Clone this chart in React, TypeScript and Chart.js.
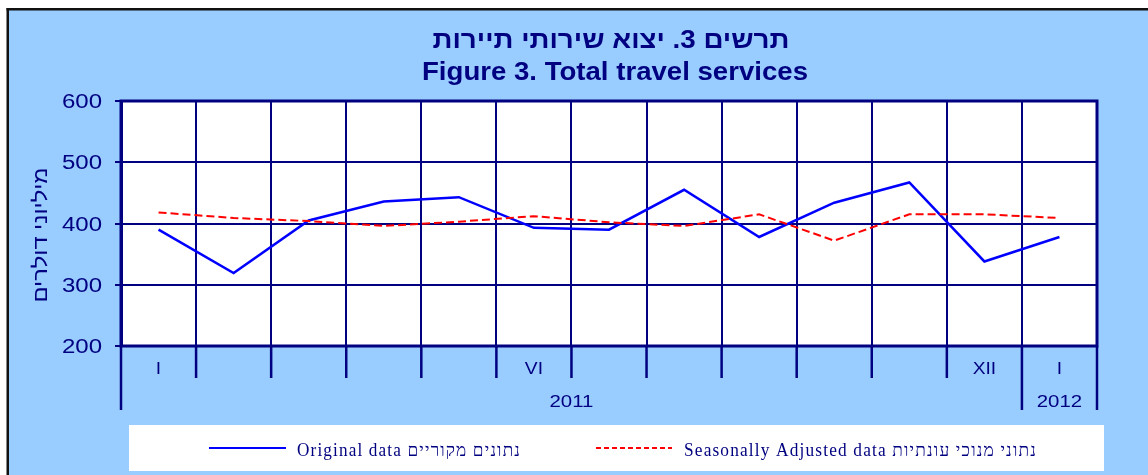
import { useEffect, useRef } from 'react';
import { Chart, registerables } from 'chart.js';

Chart.register(...registerables);

// ---- data ----
const months = ['I', 'II', 'III', 'IV', 'V', 'VI', 'VII', 'VIII', 'IX', 'X', 'XI', 'XII', 'I'];
const monthTickLabels = ['I', '', '', '', '', 'VI', '', '', '', '', '', 'XII', 'I'];
const yearLabels = ['2011', '2012'];
const yearFirstIndex = [0, 12];
const yearLastIndex = [11, 12];
const originalData = [390, 319, 405, 436, 443, 393, 390, 455, 378, 434, 467, 338, 378];
const adjustedData = [418, 409, 404, 396, 403, 412, 402, 396, 415, 372, 415, 415, 409];
const yMin = 200;
const yMax = 600;
const yStep = 100;
const titleHe = 'תרשים 3. יצוא שירותי תיירות';
const titleEn = 'Figure 3. Total travel services';
const yAxisTitle = 'מיליוני דולרים';
const legendOriginal = 'Original data נתונים מקוריים';
const legendAdjusted = 'Seasonally Adjusted data נתוני מנוכי עונתיות';

// ---- styles ----
const NAVY = '#000080';
const BG = '#99CCFF';
const SANS = "'Liberation Sans', Arial, sans-serif";
const SERIF = "'Liberation Serif', 'Times New Roman', serif";

function drawText(
  ctx: CanvasRenderingContext2D,
  text: string,
  x: number,
  y: number,
  font: string,
  align: CanvasTextAlign,
  sx: number,
  baseline: CanvasTextBaseline = 'alphabetic',
  color: string = NAVY
) {
  ctx.save();
  ctx.font = font;
  ctx.fillStyle = color;
  ctx.textAlign = align;
  ctx.textBaseline = baseline;
  ctx.direction = 'ltr';
  ctx.translate(x, y);
  ctx.scale(sx, 1);
  ctx.fillText(text, 0, 0);
  ctx.restore();
}

function drawFit(
  ctx: CanvasRenderingContext2D,
  text: string,
  x: number,
  y: number,
  font: string,
  align: CanvasTextAlign,
  width: number,
  spacing = '0px',
  rotate = 0
) {
  ctx.save();
  ctx.font = font;
  (ctx as any).letterSpacing = spacing;
  ctx.direction = 'ltr';
  const w = ctx.measureText(text).width || 1;
  const sx = width / w;
  ctx.fillStyle = NAVY;
  ctx.textAlign = align;
  ctx.textBaseline = 'alphabetic';
  ctx.translate(x, y);
  if (rotate) ctx.rotate(rotate);
  ctx.scale(sx, 1);
  ctx.fillText(text, 0, 0);
  ctx.restore();
}

const decorPlugin = {
  id: 'decor',
  beforeDraw(chart: any) {
    const { ctx, width, height, chartArea } = chart;
    ctx.save();
    ctx.fillStyle = '#FFFFFF';
    ctx.fillRect(0, 0, width, height);
    ctx.fillStyle = BG;
    ctx.fillRect(8, 9, width - 8, height - 9);
    ctx.fillStyle = '#111111';
    ctx.fillRect(6.5, 8, 2.5, height - 8);
    ctx.fillRect(6.5, 8, width - 6.5, 2.5);
    ctx.fillStyle = '#FFFFFF';
    ctx.fillRect(chartArea.left, chartArea.top, chartArea.right - chartArea.left, chartArea.bottom - chartArea.top);
    ctx.restore();
  },
  afterDraw(chart: any) {
    const { ctx, chartArea } = chart;
    const xs = chart.scales.x;
    const ys = chart.scales.y;
    const step = xs.getPixelForValue(1) - xs.getPixelForValue(0);
    const boundary = (i: number) => xs.getPixelForValue(0) - step / 2 + i * step;

    ctx.save();
    // plot frame
    ctx.strokeStyle = NAVY;
    ctx.lineWidth = 3;
    ctx.strokeRect(chartArea.left, chartArea.top, chartArea.right - chartArea.left, chartArea.bottom - chartArea.top);

    // category tick marks below axis
    const yearBounds = new Set<number>();
    yearFirstIndex.forEach((i) => yearBounds.add(i));
    yearLastIndex.forEach((i) => yearBounds.add(i + 1));
    ctx.lineWidth = 2.5;
    for (let i = 0; i <= months.length; i++) {
      const x = boundary(i);
      const long = yearBounds.has(i);
      ctx.beginPath();
      ctx.moveTo(x, chartArea.bottom);
      ctx.lineTo(x, chartArea.bottom + (long ? 64 : 32));
      ctx.stroke();
    }
    ctx.restore();

    // month labels
    monthTickLabels.forEach((lab, i) => {
      if (!lab) return;
      drawText(ctx, lab, xs.getPixelForValue(i), chartArea.bottom + 24, `16px ${SANS}`, 'center', 1.2, 'middle');
    });
    // year labels
    yearLabels.forEach((lab, k) => {
      const cx = (boundary(yearFirstIndex[k]) + boundary(yearLastIndex[k] + 1)) / 2;
      drawText(ctx, lab, cx, chartArea.bottom + 56, `17px ${SANS}`, 'center', 1.2, 'middle');
    });

    // y tick labels
    ys.ticks.forEach((t: any) => {
      const y = ys.getPixelForValue(t.value);
      drawText(ctx, String(t.value), chartArea.left - 19, y + 1.5, `20px ${SANS}`, 'right', 1.2, 'middle');
    });

    // y axis title
    drawFit(ctx, yAxisTitle, 47, 235, `20px ${SANS}`, 'center', 135, '0px', -Math.PI / 2);

    // titles
    drawFit(ctx, titleHe, 611, 48, `bold 25px ${SANS}`, 'center', 357);
    drawFit(ctx, titleEn, 615, 80, `bold 25px ${SANS}`, 'center', 386);

    // legend
    ctx.save();
    ctx.fillStyle = '#FFFFFF';
    ctx.fillRect(129, 425, 975, 46);
    ctx.lineWidth = 2;
    ctx.strokeStyle = '#0000FF';
    ctx.beginPath();
    ctx.moveTo(209, 448);
    ctx.lineTo(286, 448);
    ctx.stroke();
    ctx.strokeStyle = '#FF0000';
    ctx.setLineDash([5, 3]);
    ctx.beginPath();
    ctx.moveTo(596, 448);
    ctx.lineTo(672, 448);
    ctx.stroke();
    ctx.restore();
    drawFit(ctx, legendOriginal, 297, 455.5, `18px ${SERIF}`, 'left', 224, '1.2px');
    drawFit(ctx, legendAdjusted, 684, 455.5, `18px ${SERIF}`, 'left', 353, '1.2px');
  },
};

export default function App() {
  const ref = useRef<HTMLCanvasElement | null>(null);

  useEffect(() => {
    if (!ref.current) return;
    const chart = new Chart(ref.current, {
      type: 'line',
      data: {
        labels: months,
        datasets: [
          {
            label: 'Original data',
            data: originalData,
            borderColor: '#0000FF',
            borderWidth: 2.5,
            pointRadius: 0,
            tension: 0,
            fill: false,
            order: 2,
          },
          {
            label: 'Seasonally Adjusted data',
            data: adjustedData,
            borderColor: '#FF0000',
            borderWidth: 2,
            borderDash: [8, 4],
            pointRadius: 0,
            tension: 0,
            fill: false,
            order: 1,
          },
        ],
      },
      options: {
        animation: false,
        responsive: false,
        maintainAspectRatio: false,
        devicePixelRatio: 1,
        layout: { padding: { left: 0, right: 51, top: 101, bottom: 129 } },
        plugins: {
          legend: { display: false },
          tooltip: { enabled: false },
          title: { display: false },
        },
        scales: {
          x: {
            type: 'category',
            offset: true,
            grid: { color: NAVY, lineWidth: 2, offset: true, drawTicks: false },
            ticks: { display: false },
            border: { display: false },
            afterFit: (s: any) => {
              s.height = 0;
            },
          },
          y: {
            min: yMin,
            max: yMax,
            ticks: { stepSize: yStep, display: false },
            grid: { color: NAVY, lineWidth: 2, drawTicks: true, tickLength: 6 },
            border: { display: true, color: NAVY, width: 3 },
            afterFit: (s: any) => {
              s.width = 121;
            },
          },
        },
      },
      plugins: [decorPlugin],
    });
    return () => chart.destroy();
  }, []);

  return (
    <div style={{ position: 'absolute', left: 0, top: 0, width: 1148, height: 475 }}>
      <canvas ref={ref} width={1148} height={475} style={{ display: 'block' }} />
    </div>
  );
}
